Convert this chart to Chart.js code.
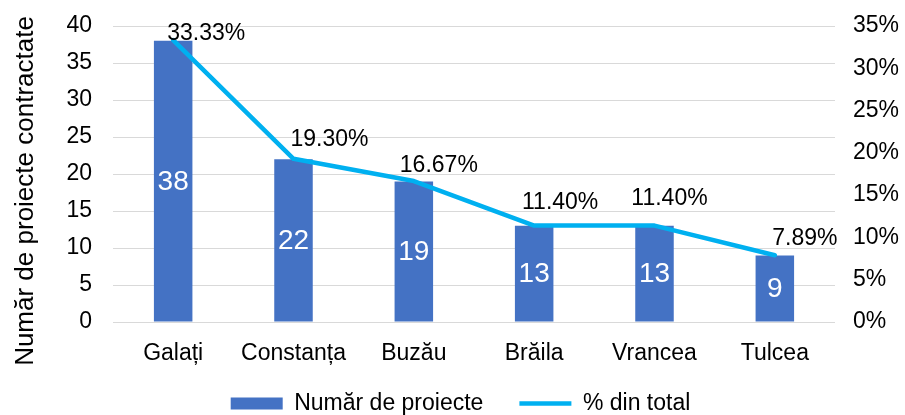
<!DOCTYPE html>
<html><head><meta charset="utf-8">
<script src="https://cdn.jsdelivr.net/npm/chart.js@4"></script>
<style>html,body{margin:0;padding:0;background:#fff;overflow:hidden}#wrap{width:905px;height:415px;position:relative}</style>
</head><body><div id="wrap"><canvas id="c"></canvas></div>
<script>
const categories = ['Galați', 'Constanța', 'Buzău', 'Brăila', 'Vrancea', 'Tulcea'];
const projectCounts = [38, 22, 19, 13, 13, 9];
const percentOfTotal = [33.33, 19.30, 16.67, 11.40, 11.40, 7.89];
const countTicks = [0, 5, 10, 15, 20, 25, 30, 35, 40];
const percentTicks = [0, 5, 10, 15, 20, 25, 30, 35];
const seriesNames = ['Număr de proiecte', '% din total'];
const axisTitle = 'Număr de proiecte contractate';

// label placement (style only)
const pctLabelOffsets = [[33, -6], [36, -19], [25, -15], [26, -23], [15, -27], [30, -17]];

const FONT = '"Liberation Sans", Arial, sans-serif';
const BAR_COLOR = '#4472C4';
const LINE_COLOR = '#00B0F0';

const labelPlugin = {
  id: 'valueLabels',
  afterLayout(chart) {
    if (chart.legend) { chart.legend.left += 16; }
  },
  afterDatasetsDraw(chart) {
    const ctx = chart.ctx;
    ctx.save();
    ctx.textAlign = 'center';
    ctx.textBaseline = 'middle';
    ctx.font = '28px ' + FONT;
    ctx.fillStyle = '#ffffff';
    chart.getDatasetMeta(0).data.forEach((bar, i) => {
      const p = bar.getProps(['x', 'y', 'base'], true);
      ctx.fillText(String(projectCounts[i]), p.x, (p.y + p.base) / 2 + 1);
    });
    ctx.font = '23px ' + FONT;
    ctx.fillStyle = '#000000';
    chart.getDatasetMeta(1).data.forEach((pt, i) => {
      const o = pctLabelOffsets[i];
      ctx.fillText(percentOfTotal[i].toFixed(2) + '%', pt.x + o[0], pt.y + o[1]);
    });
    // left axis title
    const ca = chart.chartArea;
    ctx.translate(26, (ca.top + ca.bottom) / 2 + 17);
    ctx.rotate(-Math.PI / 2);
    ctx.font = '26px ' + FONT;
    ctx.fillText(axisTitle, 0, 0);
    ctx.restore();
  }
};

function noPad(s) {
  s.paddingTop = 0; s.paddingBottom = 0; s.paddingLeft = 0; s.paddingRight = 0;
}

new Chart(document.getElementById('c'), {
  data: {
    labels: categories,
    datasets: [
      {
        type: 'bar',
        label: seriesNames[0],
        data: projectCounts,
        backgroundColor: BAR_COLOR,
        borderWidth: 0,
        yAxisID: 'y',
        order: 1,
        pointStyle: 'rect',
        categoryPercentage: 1,
        barPercentage: 0.32
      },
      {
        type: 'line',
        label: seriesNames[1],
        data: percentOfTotal,
        borderColor: LINE_COLOR,
        backgroundColor: LINE_COLOR,
        borderWidth: 4.5,
        pointRadius: 0,
        pointHoverRadius: 0,
        tension: 0,
        borderCapStyle: 'round',
        borderJoinStyle: 'round',
        yAxisID: 'y2',
        order: 0,
        pointStyle: 'line'
      }
    ]
  },
  options: {
    responsive: true,
    maintainAspectRatio: false,
    animation: false,
    devicePixelRatio: 1,
    layout: { padding: { top: 26, left: 0, right: 0, bottom: -10 } },
    plugins: {
      tooltip: { enabled: false },
      legend: {
        position: 'bottom',
        labels: {
          usePointStyle: true,
          pointStyleWidth: 52,
          boxHeight: 12,
          padding: 36,
          color: '#000',
          font: { family: FONT, size: 23 },
          sort: (a, b) => a.datasetIndex - b.datasetIndex
        }
      }
    },
    scales: {
      x: {
        grid: { display: false, drawTicks: false },
        border: { display: false },
        ticks: { color: '#000', font: { family: FONT, size: 23 }, padding: 18, maxRotation: 0 },
        afterFit: s => { s.height = 34; noPad(s); s._computeLabelArea = () => undefined; }
      },
      y: {
        position: 'left',
        min: 0, max: 40,
        afterBuildTicks: s => { s.ticks = countTicks.map(v => ({ value: v })); },
        grid: { color: '#D9D9D9', lineWidth: 1, drawTicks: false },
        border: { display: false },
        ticks: { color: '#000', font: { family: FONT, size: 23 }, padding: 21 },
        afterFit: s => { s.width = 113; noPad(s); }
      },
      y2: {
        position: 'right',
        min: 0, max: 35,
        afterBuildTicks: s => { s.ticks = percentTicks.map(v => ({ value: v })); },
        grid: { display: false, drawTicks: false },
        border: { display: false },
        ticks: { color: '#000', font: { family: FONT, size: 23 }, padding: 18, callback: v => v + '%' },
        afterFit: s => { s.width = 70; noPad(s); }
      }
    }
  },
  plugins: [labelPlugin]
});
</script>
</body></html>
